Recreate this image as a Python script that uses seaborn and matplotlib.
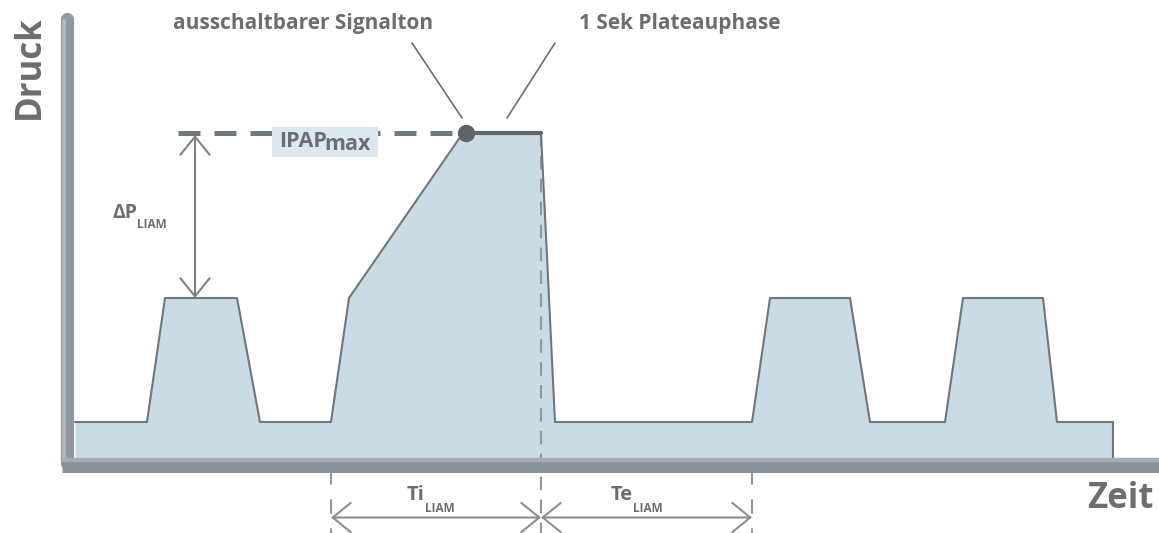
import matplotlib
matplotlib.use("Agg")
import matplotlib.pyplot as plt
import seaborn as sns
from matplotlib.patches import Rectangle

# Druckverlauf (Zeit in willkürlichen Einheiten, Druck in willkürlichen Einheiten)
zeit = [0.75, 1.47, 1.65, 2.37, 2.60, 3.31, 3.49, 4.63, 5.41, 5.55,
        7.52, 7.70, 8.50, 8.70, 9.45, 9.63, 10.43, 10.57, 11.13, 11.13]
druck = [4.1, 4.1, 16.5, 16.5, 4.1, 4.1, 16.5, 33.0, 33.0, 4.1,
         4.1, 16.5, 16.5, 4.1, 4.1, 16.5, 16.5, 4.1, 4.1, 0.5]

epap = 4.1
ipap = 16.5
ipap_max = 33.0
signalton_t = 4.66
plateau = [4.63, 5.41]
ti_start, ti_end, te_end = 3.31, 5.41, 7.52

txt = "#6b6e70"
fill_c = "#c9dbe4"
line_c = "#6f777c"
head_font = ["Open Sans", "DejaVu Sans"]

sns.set_theme(style="white")
plt.rcParams["font.family"] = head_font

fig = plt.figure(figsize=(11.59, 5.33), dpi=100)
ax = fig.add_axes([0, 0, 1, 1])
ax.set_xlim(0, 11.59)
ax.set_ylim(-7.0, 46.3)
ax.axis("off")

# Achsen als dicke graue Balken
ax.plot([0.665, 0.665], [44.4, 0.0], color="#8f999f", lw=9.5,
        solid_capstyle="round", zorder=5)
ax.plot([0.64, 0.64], [44.2, 0.5], color="#adb7bd", lw=3,
        solid_capstyle="round", zorder=6)
ax.plot([0.62, 11.59], [-0.15, -0.15], color="#87919a", lw=10.8,
        solid_capstyle="butt", zorder=5)
ax.plot([0.62, 11.59], [0.35, 0.35], color="#a3aeb4", lw=3.2,
        solid_capstyle="butt", zorder=6)

# Kurve
ax.fill_between(zeit, druck, 0.5, color=fill_c, lw=0, zorder=1)
sns.lineplot(x=zeit, y=druck, sort=False, estimator=None, color=line_c,
             lw=1.5, ax=ax, zorder=3)

# IPAPmax gestrichelt + Plateau
ax.plot([1.78, plateau[0]], [ipap_max, ipap_max], color="#6f7a80", lw=3.6,
        dashes=(4.4, 2.8), dash_capstyle="butt", zorder=4)
ax.plot(plateau, [ipap_max, ipap_max], color="#5f676c", lw=3, zorder=4)
ax.plot(signalton_t, ipap_max, "o", ms=11.5, color="#5e6367", zorder=7)

ax.add_patch(Rectangle((2.72, 30.6), 1.06, 3.0, color="#dce8f0", lw=0, zorder=4.5))
t_ipap = ax.text(2.79, 31.6, "IPAP", fontsize=15.5, fontweight="bold",
                 color=txt, va="baseline", ha="left", zorder=6)
ax.annotate("max", xy=(1, 0), xycoords=t_ipap, xytext=(-1.5, 1.4),
            textcoords="offset points", fontsize=15.5, fontweight="bold",
            color=txt, va="baseline", ha="left", zorder=6)

# Delta P Pfeil
arrow_kw = dict(arrowstyle="<->,head_length=1.3,head_width=1.05", color="#7d8286",
                lw=1.5, shrinkA=0, shrinkB=0, mutation_scale=10)
ax.annotate("", xy=(1.95, ipap_max - 0.2), xytext=(1.95, ipap), arrowprops=arrow_kw)
t_dp = ax.text(1.12, 24.5, "ΔP", fontsize=14, fontweight="bold", color=txt,
               va="baseline", ha="left")
ax.annotate("LIAM", xy=(1, 0), xycoords=t_dp, xytext=(0.0, -3.5),
            textcoords="offset points", fontsize=8.5, fontweight="bold",
            color=txt, va="baseline", ha="left")

# Ti / Te Markierungen
ax.plot([ti_end, ti_end], [ipap_max, -7.0], color="#8e989d", lw=1.5,
        dashes=(6.5, 4.5), zorder=2)
for xt in (ti_start, te_end):
    ax.plot([xt, xt], [-0.7, -7.0], color="#8e989d", lw=1.5,
            dashes=(7, 7), zorder=2)
arrow_kw2 = dict(arrow_kw, color="#8a8f93")
ax.annotate("", xy=(ti_start, -5.45), xytext=(ti_end, -5.45), arrowprops=arrow_kw2)
ax.annotate("", xy=(ti_end, -5.45), xytext=(te_end, -5.45), arrowprops=arrow_kw2)

for x0, lab in ((4.07, "Ti"), (6.11, "Te")):
    t_lab = ax.text(x0, -3.7, lab, fontsize=14.5, fontweight="bold", color=txt,
                    va="baseline", ha="left")
    ax.annotate("LIAM", xy=(1, 0), xycoords=t_lab, xytext=(0.0, -5),
                textcoords="offset points", fontsize=8.5, fontweight="bold",
                color=txt, va="baseline", ha="left")

# Beschriftungen oben
ax.text(3.03, 43.9, "ausschaltbarer Signalton", fontsize=15, fontweight="bold",
        color=txt, ha="center", va="center")
ax.text(6.80, 43.9, "1 Sek Plateauphase", fontsize=15, fontweight="bold",
        color=txt, ha="center", va="center")
ax.plot([4.12, 4.62], [42.0, 34.5], color="#6a6e71", lw=1.2)
ax.plot([5.55, 5.07], [42.0, 34.5], color="#6a6e71", lw=1.2)

# Achsentitel
ax.text(0.30, 39.6, "Druck", fontsize=25, fontweight="bold", color=txt,
        rotation=90, ha="center", va="center")
ax.text(11.53, -4.5, "Zeit", fontsize=25, fontweight="bold", color=txt,
        ha="right", va="baseline")

fig.savefig("out.png", dpi=100)
